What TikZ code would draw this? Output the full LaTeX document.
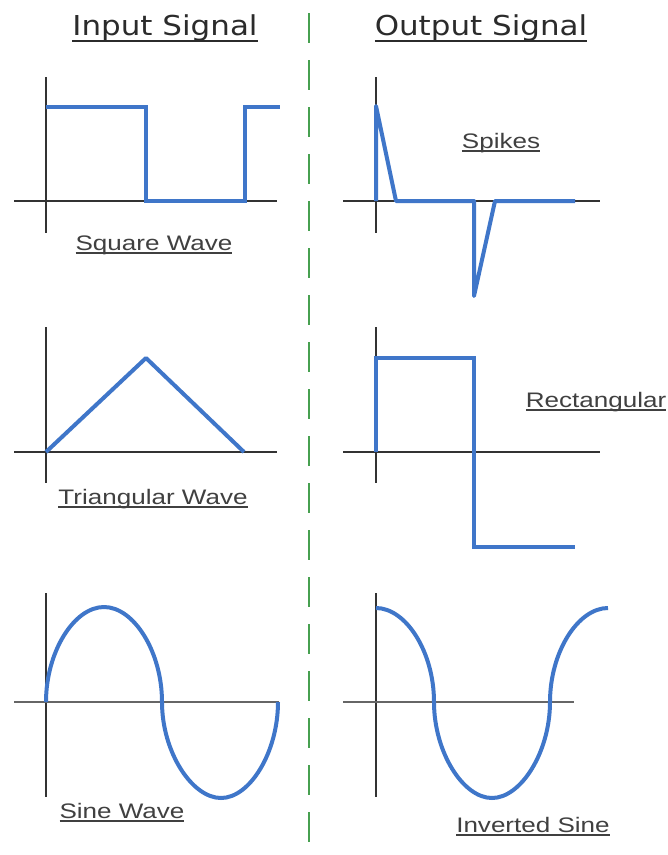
\documentclass[tikz,border=0pt]{standalone}
\usepackage{fontspec}
\setmainfont{Liberation Sans}
\newfontfamily\titlefont[FakeStretch=1.13]{DejaVu Sans}
\newfontfamily\labelfont[FakeStretch=1.24]{Liberation Sans}
\definecolor{sigBlue}{HTML}{3F76C9}
\definecolor{divGreen}{HTML}{47A050}
\definecolor{txtGray}{HTML}{2B2B2B}
\newsavebox{\ulbox}
\newcommand{\ultext}[2]{\sbox{\ulbox}{#2}\rlap{\rule[-#1]{\wd\ulbox}{1.8pt}}\usebox{\ulbox}}

\begin{document}
\begin{tikzpicture}[
  x=1pt,y=-1pt,
  axis/.style={black!80,line width=1.3pt},
  baseaxis/.style={black!60,line width=2pt},
  wave/.style={sigBlue,line width=4pt},
  heading/.style={
    anchor=base,
    inner sep=0pt,
    text=txtGray,
    font=\titlefont\fontsize{27.4}{30}\selectfont
  },
  caption/.style={
    anchor=base,
    inner sep=0pt,
    text=txtGray!90,
    font=\labelfont\fontsize{21}{24}\selectfont
  }
]
  \fill[white] (0,0) rectangle (668,855);
  \useasboundingbox (0,0) rectangle (668,855);

  \node[heading] (intitle) at (165,35) {\ultext{7pt}{Input Signal}};
  \node[heading] (outtitle) at (481,35) {\ultext{7pt}{Output Signal}};
  \draw[divGreen,line width=1.6pt,dash pattern=on 30pt off 17pt]
    (309,13) -- (309,855);

  % square wave -> spikes
  \draw[axis] (46,77) -- (46,233);
  \draw[axis] (14,201) -- (277,201);
  \draw[wave] (46,107) -- (146,107) -- (146,201) -- (245,201)
    -- (245,107) -- (280,107);
  \node[caption] (squarelbl) at (154,250) {\ultext{4pt}{Square Wave}};

  \draw[axis] (376,77) -- (376,233);
  \draw[axis] (343,201) -- (600,201);
  \draw[wave,line join=round] (376,201) -- (376,106) -- (396,201)
    -- (474,201) -- (474,296) -- (495,201) -- (575,201);
  \node[caption] (spikelbl) at (501,148) {\ultext{4pt}{Spikes}};

  % triangular wave -> rectangular
  \draw[axis] (46,327) -- (46,483);
  \draw[axis] (14,452) -- (277,452);
  \draw[wave,line join=round] (46,452) -- (146,358) -- (244,452);
  \node[caption] (trilbl) at (153,504) {\ultext{4pt}{Triangular Wave}};

  \draw[axis] (376,327) -- (376,483);
  \draw[axis] (343,452) -- (600,452);
  \draw[wave] (376,452) -- (376,358) -- (474,358) -- (474,547)
    -- (575,547);
  \node[caption] (rectlbl) at (596,407) {\ultext{4pt}{Rectangular}};

  % sine wave -> inverted sine
  \draw[axis] (46,593) -- (46,797);
  \draw[baseaxis] (14,702) -- (279,702);
  \draw[wave]
    (46,702) .. controls (46,652) and (74,607) .. (104,607)
    .. controls (134,607) and (162,652) .. (162,702)
    .. controls (162,752) and (192,798) .. (221,798)
    .. controls (250,798) and (278,752) .. (278,702);
  \node[caption] (sinelbl) at (122,818) {\ultext{4pt}{Sine Wave}};

  \draw[axis] (376,593) -- (376,797);
  \draw[baseaxis] (343,702) -- (574,702);
  \draw[wave]
    (376,608) .. controls (406,608) and (434,652) .. (434,702)
    .. controls (434,752) and (463,798) .. (492,798)
    .. controls (521,798) and (550,752) .. (550,702)
    .. controls (550,652) and (578,608) .. (608,608);
  \node[caption] (invlbl) at (533,832) {\ultext{4pt}{Inverted Sine}};
\end{tikzpicture}
\end{document}
